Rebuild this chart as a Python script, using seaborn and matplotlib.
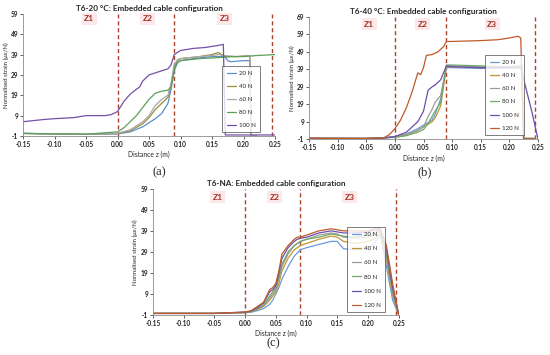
import pandas as pd
import seaborn as sns
import matplotlib.pyplot as plt

# ---------------- data ----------------
loads_a = ["20 N", "40 N", "60 N", "80 N", "100 N"]
loads_bc = ["20 N", "40 N", "60 N", "80 N", "100 N", "120 N"]

# (a) T6-20 °C
a_x_20 = [-0.15, -0.10, -0.05, 0.0, 0.02, 0.04, 0.05, 0.06, 0.07, 0.08, 0.085, 0.09, 0.095, 0.10, 0.12, 0.15, 0.17, 0.175, 0.18, 0.20, 0.21, 0.212, 0.22]
a_y_20 = [0.3, 0.0, -0.2, 0.0, 1.0, 3.5, 5.5, 7.5, 10, 15, 22, 31, 35, 36, 37, 38, 38, 36, 35.5, 36, 36, -0.8, -0.8]
a_x_40 = [-0.15, -0.10, -0.05, 0.0, 0.02, 0.04, 0.05, 0.06, 0.07, 0.08, 0.085, 0.09, 0.095, 0.10, 0.13, 0.15, 0.16, 0.17, 0.19, 0.21, 0.212, 0.22]
a_y_40 = [0.2, 0.0, -0.2, 0.2, 1.5, 5, 8, 12, 15, 18, 24, 33, 36, 37, 38, 39, 40, 38, 38, 38.5, -0.8, -0.8]
a_x_60 = a_x_40
a_y_60 = [0.2, 0.0, -0.2, 0.3, 2, 6, 9, 14, 17, 19, 25, 34, 36.5, 37, 38, 38.5, 39, 38.5, 38, 38.5, -0.8, -0.8]
a_x_80 = [-0.15, -0.10, -0.05, 0.0, 0.01, 0.02, 0.03, 0.04, 0.05, 0.06, 0.07, 0.08, 0.085, 0.09, 0.095, 0.10, 0.13, 0.16, 0.18, 0.20, 0.22, 0.25]
a_y_80 = [0.3, 0.0, -0.1, 1, 3, 6, 9, 13, 17, 20, 21, 21.5, 23, 32, 35, 36, 37, 37.5, 38, 38, 38.5, 39]
a_x_100 = [-0.15, -0.12, -0.10, -0.07, -0.05, -0.02, -0.01, 0.0, 0.01, 0.02, 0.03, 0.035, 0.04, 0.05, 0.06, 0.07, 0.08, 0.085, 0.09, 0.10, 0.12, 0.14, 0.16, 0.168, 0.171, 0.20, 0.25]
a_y_100 = [6, 7, 7.5, 8, 9, 9, 9.5, 11, 16, 19.5, 22, 23, 26, 29, 30, 31, 32, 34, 39, 41, 42, 42.5, 43.5, 44, -0.5, -0.5, -0.5]

# (b) T6-40 °C
b_x = [-0.15, -0.05, -0.02, 0.0, 0.02, 0.04, 0.045, 0.05, 0.058, 0.065, 0.07, 0.08, 0.09, 0.10, 0.15, 0.20, 0.222, 0.225, 0.245]
b_y_20 = [-0.5, -0.6, -0.3, 0.5, 2, 5, 6, 7, 8.5, 10, 13, 22, 40, 40, 39.5, 40, 40, -0.6, -0.6]
b_y_40 = [-0.5, -0.6, -0.3, 0.3, 1.5, 4, 5, 6, 7.5, 9, 11, 18, 40.5, 40.5, 40, 40, 40, -0.6, -0.6]
b_y_60 = [-0.5, -0.6, -0.3, 0.2, 1.2, 4, 5, 6, 12, 16, 20, 24, 41, 41, 40.5, 40.5, 41, -0.6, -0.6]
b_y_80 = [-0.5, -0.6, -0.3, 0.0, 1, 3, 3.8, 4.5, 8, 12, 15, 20, 41.5, 41.5, 41, 40.5, 41, -0.6, -0.6]
b_x_100 = [-0.15, -0.05, -0.02, 0.0, 0.02, 0.04, 0.045, 0.05, 0.058, 0.065, 0.07, 0.08, 0.09, 0.10, 0.15, 0.20, 0.22, 0.24, 0.25]
b_y_100 = [-0.5, -0.6, -0.3, 0.5, 3, 9, 12, 15, 27, 29, 30, 33, 41, 40.5, 40, 40, 40, 14, -1]
b_x_120 = [-0.15, -0.05, -0.02, -0.01, 0.0, 0.01, 0.02, 0.03, 0.04, 0.045, 0.05, 0.055, 0.065, 0.075, 0.085, 0.09, 0.10, 0.15, 0.18, 0.20, 0.215, 0.22, 0.225, 0.245]
b_y_120 = [-0.5, -0.6, -0.3, 1.5, 5, 10, 17, 26, 37, 36, 40, 47, 47.5, 49, 52, 55, 55, 55.5, 56, 57, 58, 57, -0.8, -0.8]

# (c) T6-NA
c_x = [-0.15, -0.10, -0.05, 0.0, 0.01, 0.02, 0.03, 0.04, 0.045, 0.05, 0.055, 0.06, 0.07, 0.08, 0.085, 0.09, 0.10, 0.12, 0.14, 0.15, 0.16, 0.18, 0.20, 0.21, 0.22, 0.23, 0.24, 0.25]
c_y_20 = [-0.3, -0.3, -0.3, 0.0, 0.3, 1, 2, 4, 6, 9, 12, 16, 22, 27, 28.5, 30, 31, 32.5, 34, 34, 30.5, 30, 30.5, 33, 37, 22, 6, -1]
c_y_40 = [-0.3, -0.3, -0.3, 0.1, 0.5, 1.5, 3, 6, 8, 10, 14, 20, 26, 30, 31, 32, 33, 35, 36.5, 36, 34, 33, 34, 35, 38, 25, 8, -1]
c_y_60 = [-0.3, -0.3, -0.3, 0.2, 0.6, 1.8, 3.5, 7, 9, 11, 16, 22, 28, 32, 33, 34, 35, 37, 38, 37.5, 36, 35.5, 36, 37, 39, 27, 9, -1]
c_y_80 = [-0.3, -0.3, -0.3, 0.2, 0.6, 2, 3.5, 8, 10, 12, 17, 23, 29, 32, 33, 34, 35, 36, 37.5, 37, 36.5, 36, 37, 38, 39.5, 28, 10, -1]
c_y_100 = [-0.3, -0.3, -0.3, 0.3, 0.8, 2.5, 4.5, 10, 11, 13, 19, 26, 31, 34, 35, 35.5, 36, 38, 39, 38.5, 38, 38, 38.5, 39.5, 39.5, 30, 12, -1]
c_y_120 = [-0.3, -0.3, -0.3, 0.4, 1, 3, 5, 11, 12, 14, 20, 28, 32, 35, 36, 36, 37, 39, 40, 39.5, 39, 39, 39, 40, 40, 32, 14, -1]

zone_lines = [0.0, 0.09, 0.245]
zone_names = ["Z1", "Z2", "Z3"]
zone_label_x = [-0.045, 0.048, 0.17]

x_ticks = [-0.15, -0.10, -0.05, 0.00, 0.05, 0.10, 0.15, 0.20, 0.25]

palette_a = {"20 N": "#5B8FD0", "40 N": "#9A8B3C", "60 N": "#A8A8A8",
             "80 N": "#5E9E5A", "100 N": "#7450A8"}
palette_bc = {"20 N": "#6B9BD8", "40 N": "#C2962E", "60 N": "#9C9C9C",
              "80 N": "#6FA86A", "100 N": "#6A4FB0", "120 N": "#BF5A2A"}


def long_frame(series):
    rows = []
    for load, xs, ys in series:
        for k, (x, y) in enumerate(zip(xs, ys)):
            rows.append({"load": load, "order": k, "z": x, "strain": y})
    return pd.DataFrame(rows)


df_a = long_frame([("20 N", a_x_20, a_y_20), ("40 N", a_x_40, a_y_40),
                   ("60 N", a_x_60, a_y_60), ("80 N", a_x_80, a_y_80),
                   ("100 N", a_x_100, a_y_100)])
df_b = long_frame([("20 N", b_x, b_y_20), ("40 N", b_x, b_y_40),
                   ("60 N", b_x, b_y_60), ("80 N", b_x, b_y_80),
                   ("100 N", b_x_100, b_y_100), ("120 N", b_x_120, b_y_120)])
df_c = long_frame([("20 N", c_x, c_y_20), ("40 N", c_x, c_y_40),
                   ("60 N", c_x, c_y_60), ("80 N", c_x, c_y_80),
                   ("100 N", c_x, c_y_100), ("120 N", c_x, c_y_120)])

sns.set_theme(style="white")
plt.rcParams["font.family"] = ["Lato", "DejaVu Sans"]
plt.rcParams["axes.unicode_minus"] = False

fig = plt.figure(figsize=(5.5, 3.55), dpi=100)
fig.patch.set_facecolor("white")


def draw_panel(rect, df, loads, palette, ymax, title, leg_anchor, zone_y, spacing):
    ax = fig.add_axes(rect)
    sns.lineplot(data=df, x="z", y="strain", hue="load", hue_order=loads,
                 palette=palette, estimator=None, sort=False, units="load",
                 linewidth=0.9, ax=ax, legend=True)
    for zl in zone_lines:
        ax.axvline(zl, color="#A8452C", linestyle=(0, (3, 2)), linewidth=1.0, zorder=1)
    for name, zx in zip(zone_names, zone_label_x):
        ax.text(zx, zone_y, name, color="#A33025", fontsize=6, fontweight="bold",
                ha="center", va="center",
                bbox=dict(boxstyle="square,pad=0.3", facecolor="#FCE8E8", edgecolor="none"))
    ax.set_xlim(-0.15, 0.25)
    ax.set_ylim(-1, ymax)
    ax.set_xticks(x_ticks)
    ax.set_xticklabels([f"{t:.2f}" for t in x_ticks])
    ax.set_yticks(list(range(-1, ymax + 1, 10)))
    ax.tick_params(axis="both", labelsize=4.7, length=2, width=0.5, pad=1.5,
                   colors="#222222", direction="out")
    ax.tick_params(axis="x", bottom=True)
    ax.tick_params(axis="y", left=True)
    for lbl in ax.get_xticklabels() + ax.get_yticklabels():
        lbl.set_fontweight("bold")
    for side in ["top", "right"]:
        ax.spines[side].set_visible(False)
    for side in ["left", "bottom"]:
        ax.spines[side].set_color("#8C8C8C")
        ax.spines[side].set_linewidth(0.6)
    ax.set_xlabel("Distance z (m)", fontsize=4.9, labelpad=2.5)
    ax.set_ylabel("Normalised strain (\u03bc\u03b5/N)", fontsize=4.4, labelpad=1.5)
    ax.set_title(title, fontsize=5.9, fontweight="bold", pad=2)
    handles, labels = ax.get_legend_handles_labels()
    leg = ax.legend(handles, labels, loc="lower left", bbox_to_anchor=leg_anchor,
                    fontsize=4.4, frameon=True, fancybox=False, handlelength=1.5,
                    labelspacing=spacing, borderpad=0.75, handletextpad=0.5,
                    borderaxespad=0)
    leg.get_frame().set_edgecolor("#444444")
    leg.get_frame().set_linewidth(0.6)
    for line in leg.get_lines():
        line.set_linewidth(0.9)
    return ax


ax_a = draw_panel([0.042, 0.617, 0.458, 0.344], df_a, loads_a, palette_a, 59,
                  "T6-20 \u00b0C: Embedded cable configuration", (0.79, 0.03), 56.5, 1.25)
ax_b = draw_panel([0.562, 0.608, 0.416, 0.344], df_b, loads_bc, palette_bc, 69,
                  "T6-40 \u00b0C: Embedded cable configuration", (0.77, 0.03), 65, 1.3)
ax_c = draw_panel([0.278, 0.113, 0.447, 0.355], df_c, loads_bc, palette_bc, 59,
                  "T6-NA: Embedded cable configuration", (0.79, 0.02), 55, 1.45)

serif = ["Liberation Serif", "DejaVu Serif"]
fig.text(0.29, 1 - 172 / 355, "(a)", fontsize=9, family=serif, ha="center", va="center")
fig.text(0.773, 1 - 172 / 355, "(b)", fontsize=9, family=serif, ha="center", va="center")
fig.text(0.497, 1 - 343 / 355, "(c)", fontsize=9, family=serif, ha="center", va="center")

fig.savefig("out.png", dpi=100, facecolor="white")
